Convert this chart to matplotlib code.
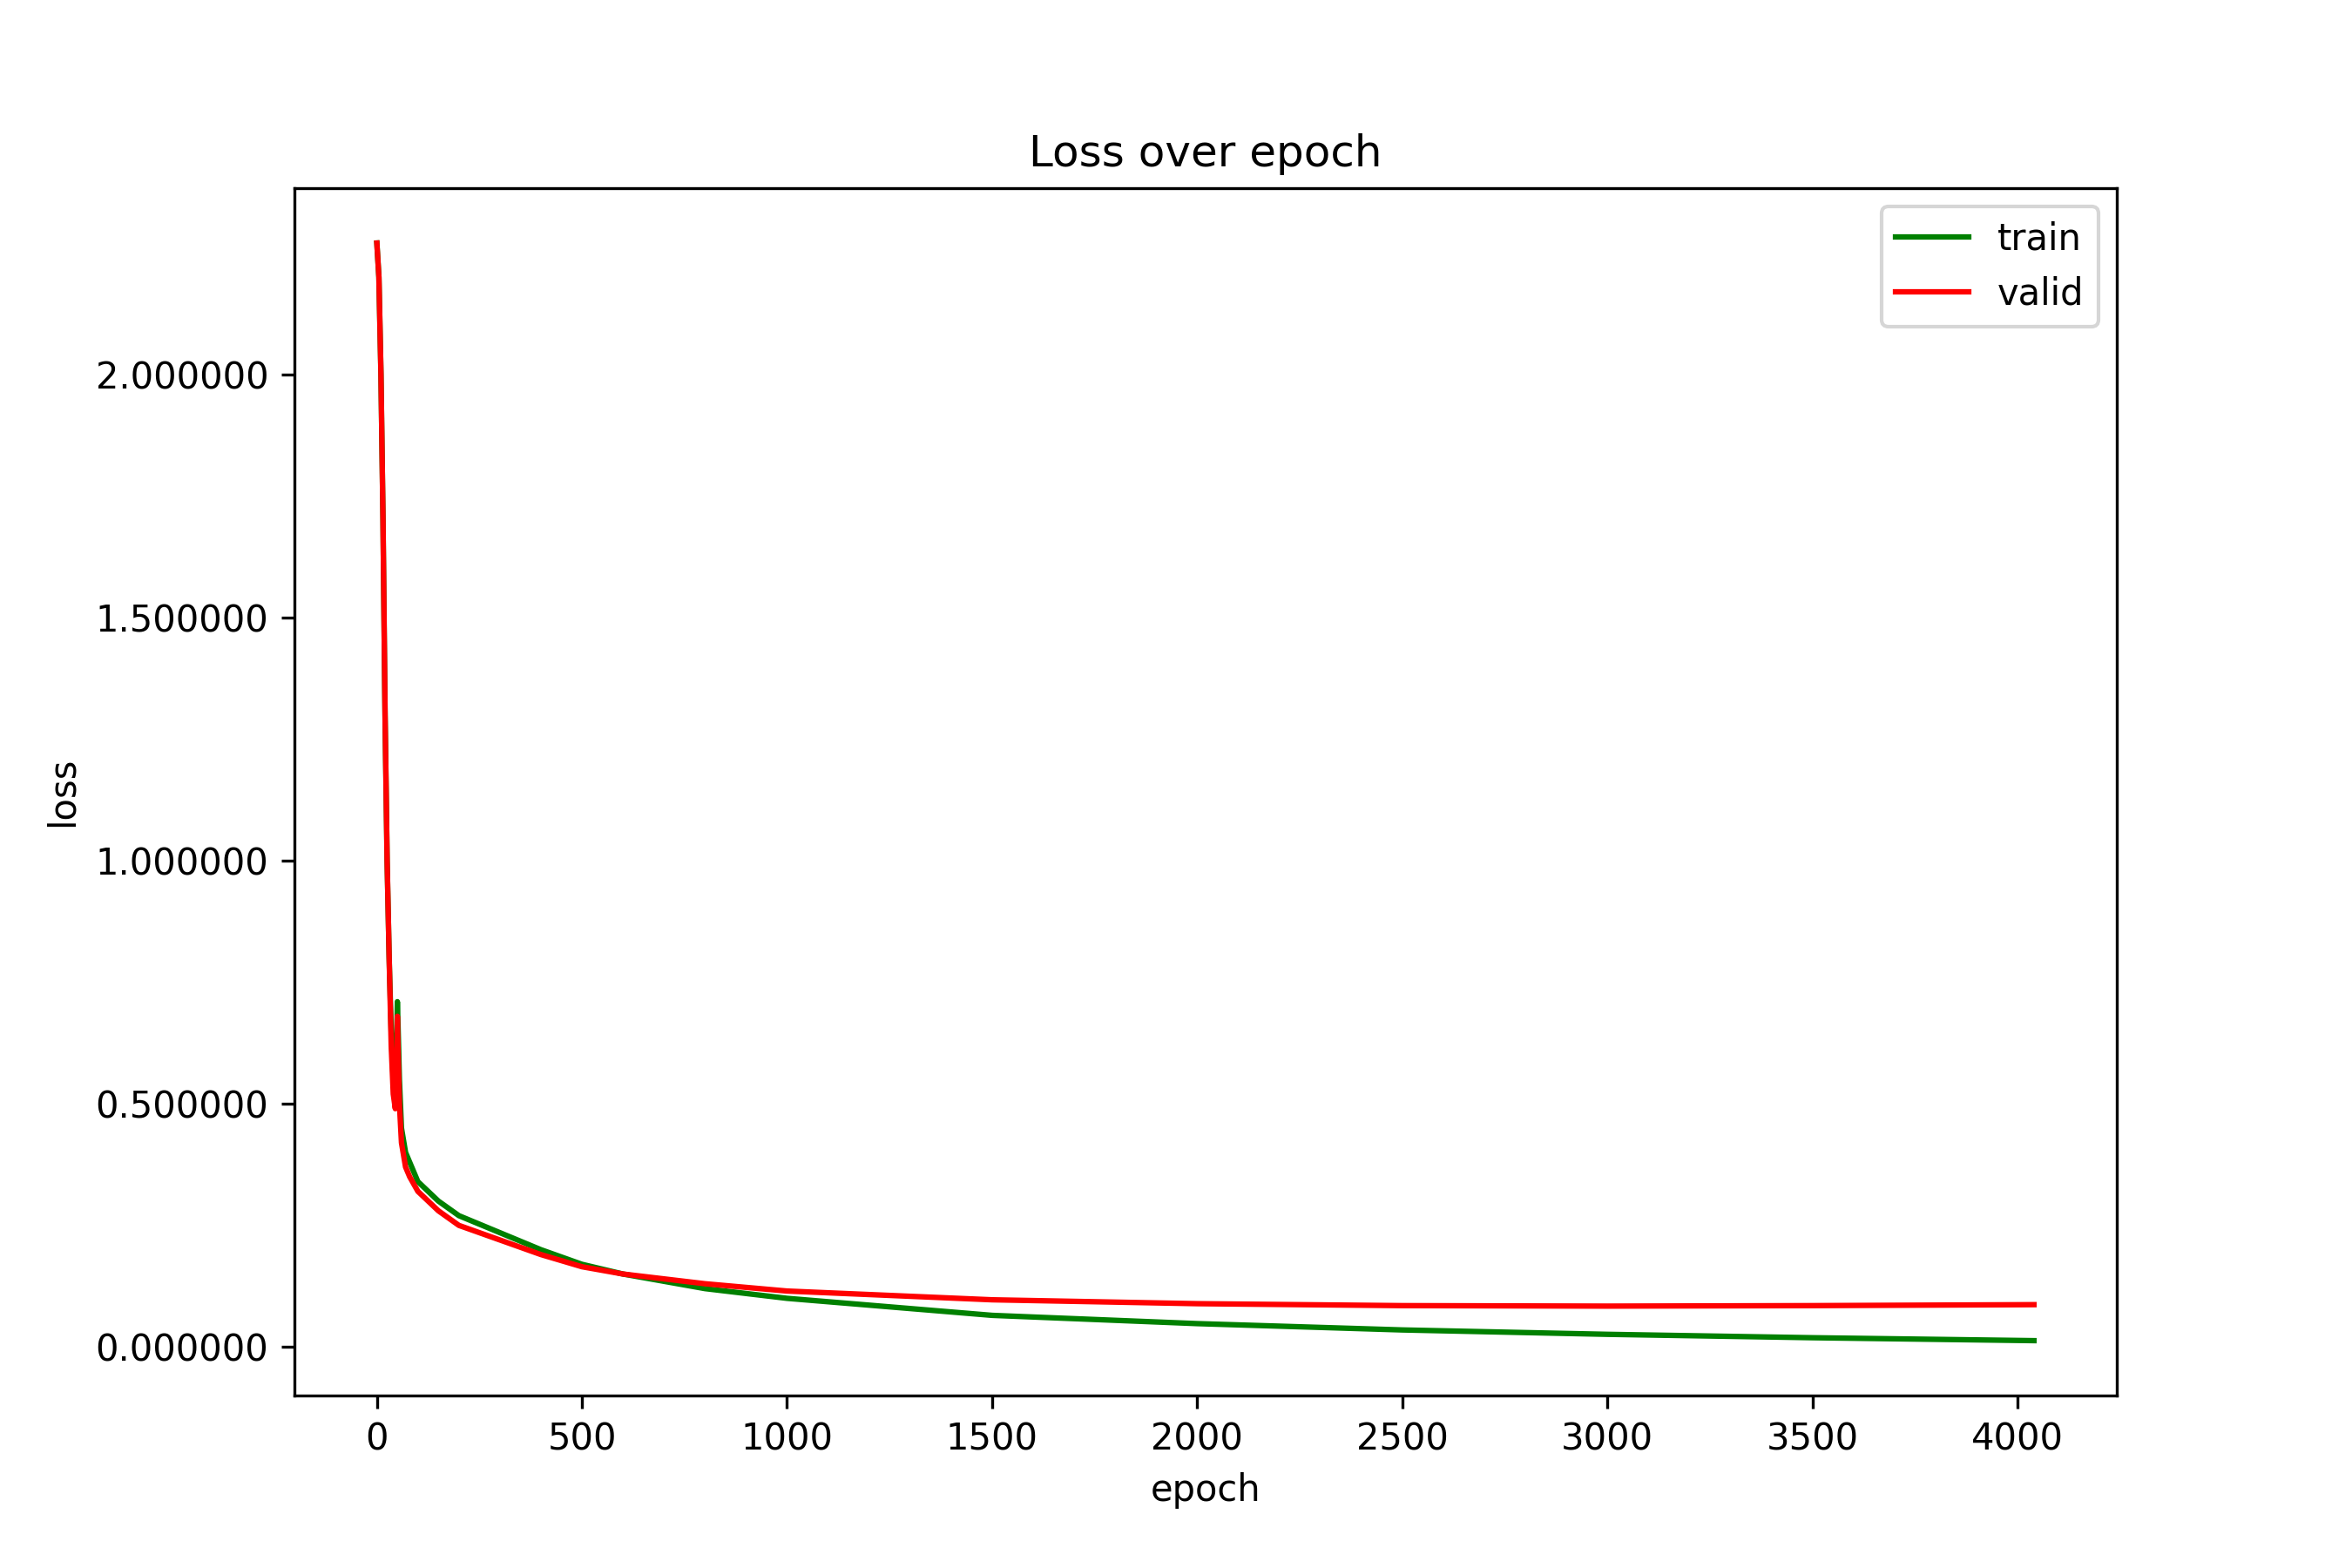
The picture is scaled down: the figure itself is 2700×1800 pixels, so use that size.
import matplotlib
matplotlib.use('Agg')
import matplotlib.pyplot as plt
from matplotlib.ticker import FormatStrFormatter

# values
train_epoch = [0, 5, 10, 15, 20, 25, 30, 35, 40, 45, 48, 50, 52, 55, 60, 70, 80, 100, 150, 200, 300, 400,
               500, 600, 800, 1000, 1500, 2000, 2500, 3000, 3500, 4040]
train_loss = [2.27, 2.2, 2.0, 1.7, 1.3, 1.0, 0.8, 0.65, 0.55, 0.52, 0.62, 0.71, 0.65, 0.55, 0.45, 0.40, 0.38,
              0.34, 0.30, 0.27, 0.235, 0.20, 0.17, 0.15, 0.12, 0.10, 0.065, 0.048, 0.035, 0.026, 0.019, 0.013]
valid_epoch = [0, 5, 10, 15, 20, 25, 30, 35, 40, 45, 48, 50, 52, 55, 60, 70, 80, 100, 150, 200, 300, 400,
               500, 600, 800, 1000, 1500, 2000, 2500, 3000, 3500, 4040]
valid_loss = [2.27, 2.2, 2.0, 1.7, 1.3, 1.0, 0.8, 0.62, 0.52, 0.49, 0.58, 0.68, 0.6, 0.5, 0.42, 0.37, 0.35,
              0.32, 0.28, 0.25, 0.22, 0.19, 0.165, 0.15, 0.13, 0.115, 0.097, 0.089, 0.085, 0.084, 0.085, 0.087]

fig, ax = plt.subplots(figsize=(9, 6))
ax.plot(train_epoch, train_loss, color='green', label='train')
ax.plot(valid_epoch, valid_loss, color='red', label='valid')
ax.yaxis.set_major_formatter(FormatStrFormatter('%f'))
ax.set_title('Loss over epoch')
ax.set_xlabel('epoch')
ax.set_ylabel('loss')
ax.legend(loc='upper right')
fig.savefig('out.png', dpi=300)
